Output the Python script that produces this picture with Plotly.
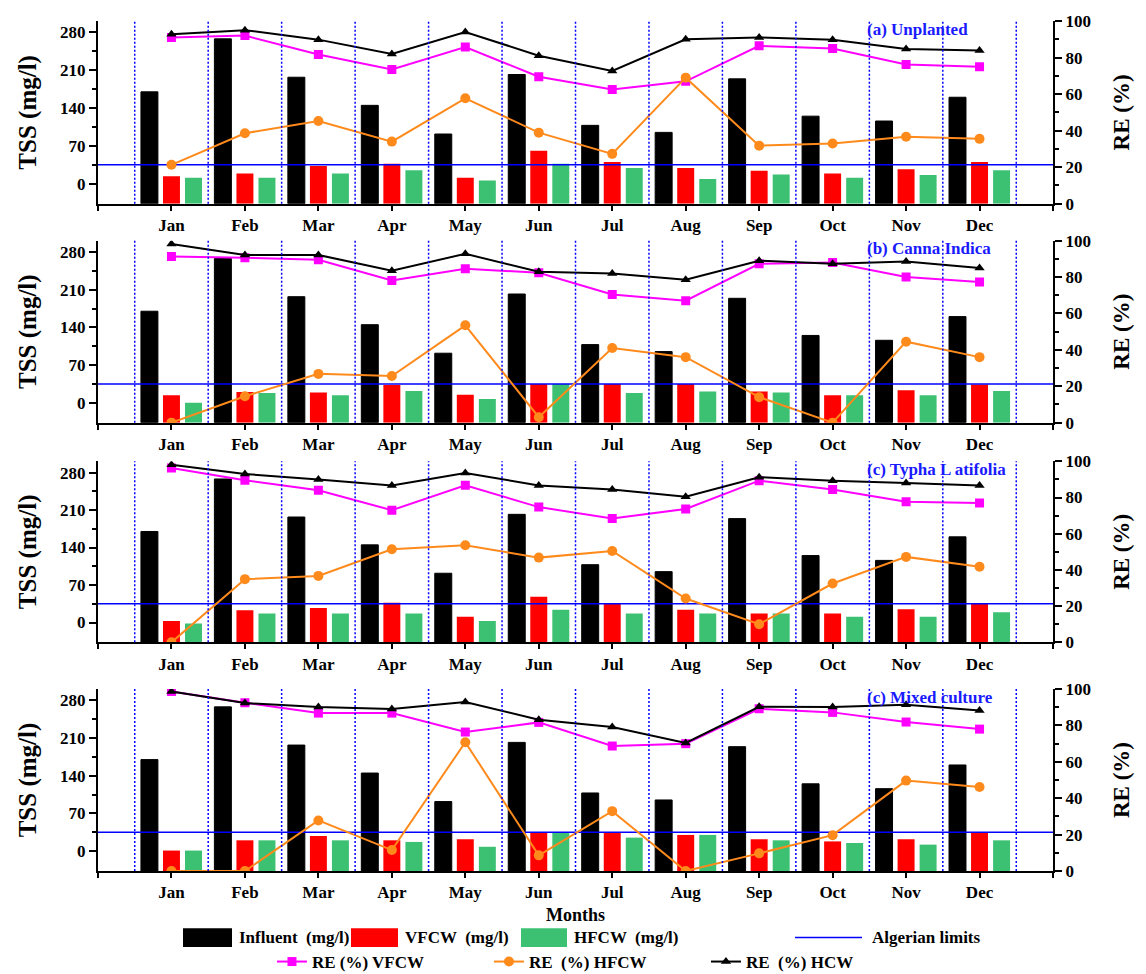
import plotly.graph_objects as go

# ---------------------------------------------------------------- data
MONTHS = ["Jan", "Feb", "Mar", "Apr", "May", "Jun",
          "Jul", "Aug", "Sep", "Oct", "Nov", "Dec"]
MONTH_POS = list(range(1, 13))

ALGERIAN_LIMIT = 35  # mg/l

# influent TSS (mg/l), common to all four systems
INFLUENT = [170, 268, 197, 145, 92, 202, 108, 95, 194, 125, 116, 160]

# (a) Unplanted
VFCW_A = [14, 19, 33, 37, 11, 61, 40, 29, 24, 19, 27, 40]
HFCW_A = [11, 11, 19, 25, 6, 37, 29, 9, 17, 11, 16, 25]
RE_VFCW_A = [91.0, 92.0, 81.7, 73.5, 85.8, 69.5, 62.5, 67.0, 86.4, 85.0, 76.2, 75.0]
RE_HFCW_A = [21.3, 38.6, 45.3, 34.0, 57.7, 38.9, 27.3, 69.0, 31.8, 33.0, 36.7, 35.5]
RE_HCW_A = [92.7, 95.0, 89.8, 82.0, 94.0, 81.0, 72.7, 90.0, 91.0, 89.8, 84.7, 83.8]

# (b) Canna Indica
VFCW_B = [14, 20, 19, 33, 15, 35, 35, 35, 21, 14, 23, 34]
HFCW_B = [0, 18, 14, 22, 7, 35, 18, 21, 19, 14, 14, 22]
RE_VFCW_B = [91.3, 90.7, 89.5, 78.2, 84.6, 82.4, 70.4, 67.0, 87.3, 88.0, 80.0, 77.3]
RE_HFCW_B = [0.0, 14.5, 26.8, 25.6, 53.5, 3.0, 41.0, 36.0, 14.0, 0.0, 44.5, 36.0]
RE_HCW_B = [98.2, 92.2, 92.2, 83.5, 92.8, 83.0, 82.0, 78.6, 89.0, 87.3, 88.6, 85.0]

# (c) Typha Latifolia
VFCW_C = [3, 23, 27, 37, 11, 48, 35, 24, 17, 17, 25, 35]
HFCW_C = [-2, 17, 17, 17, 3, 24, 17, 17, 17, 11, 11, 19]
RE_VFCW_C = [96.3, 89.5, 84.0, 73.0, 86.8, 74.7, 68.4, 73.7, 89.3, 84.4, 77.6, 77.0]
RE_HFCW_C = [0.0, 34.9, 36.7, 51.4, 53.6, 46.8, 50.5, 24.2, 10.0, 32.5, 47.2, 41.8]
RE_HCW_C = [98.1, 93.0, 89.9, 86.6, 93.6, 86.6, 84.4, 80.4, 91.2, 89.3, 88.0, 86.6]

# (d) Mixed culture
VFCW_D = [1, 20, 28, 20, 22, 35, 35, 30, 22, 18, 22, 35]
HFCW_D = [1, 20, 20, 17, 8, 35, 25, 30, 20, 15, 12, 20]
RE_VFCW_D = [98.7, 92.5, 86.8, 86.8, 76.4, 81.7, 68.7, 70.0, 89.2, 87.2, 81.9, 78.0]
RE_HFCW_D = [0.0, 0.0, 27.8, 11.5, 70.8, 8.6, 32.9, 0.0, 9.7, 19.7, 49.7, 46.2]
RE_HCW_D = [98.7, 92.3, 90.1, 89.0, 92.9, 83.2, 79.2, 70.4, 90.3, 90.1, 91.4, 88.3]

PANEL_TITLES = ["(a) Unplanted", "(b) Canna Indica",
                "(c) Typha L atifolia", "(c) Mixed culture"]

PANELS = [
    (VFCW_A, HFCW_A, RE_VFCW_A, RE_HFCW_A, RE_HCW_A),
    (VFCW_B, HFCW_B, RE_VFCW_B, RE_HFCW_B, RE_HCW_B),
    (VFCW_C, HFCW_C, RE_VFCW_C, RE_HFCW_C, RE_HCW_C),
    (VFCW_D, HFCW_D, RE_VFCW_D, RE_HFCW_D, RE_HCW_D),
]

# ---------------------------------------------------------------- style
FONT = "Liberation Serif"
BLACK = "#000000"
RED = "#ff0000"
GREEN = "#3cc173"
MAGENTA = "#ff00ff"
ORANGE = "#ff8a1c"
BLUE = "#0000ff"
TITLE_BLUE = "#1a1aff"

X_RANGE = [0, 13]
TSS_RANGE = [-37, 301]
RE_RANGE = [0, 100]

W, H = 1146, 974
M_L, M_R, M_T, M_B = 98, 93, 16, 103

# vertical domains of the four stacked panels (top to bottom)
DOMAINS = [[0.785, 1.0], [0.5275, 0.7415], [0.269, 0.482], [0.0, 0.214]]


def paper_x(px):
    return (px - M_L) / (W - M_L - M_R)


def paper_y(py):
    return 1 - (py - M_T) / (H - M_T - M_B)


tick_font = dict(family=FONT, size=17, color=BLACK, weight="bold")
title_font = dict(family=FONT, size=25, color=BLACK, weight="bold")
legend_font = dict(family=FONT, size=17, color=BLACK, weight="bold")

fig = go.Figure()

for i, (vf, hf, re_vf, re_hf, re_h) in enumerate(PANELS):
    xa = "x" if i == 0 else f"x{i + 1}"
    yl = "y" if i == 0 else f"y{2 * i + 1}"
    yr = f"y{2 * i + 2}"
    first = i == 0

    # bars rise from the bottom of the TSS axis
    for vals, color, name, lw in [
        (INFLUENT, BLACK, "Influent  (mg/l)", 1),
        (vf, RED, "VFCW  (mg/l)", 0),
        (hf, GREEN, "HFCW  (mg/l)", 0),
    ]:
        fig.add_trace(go.Bar(
            x=MONTH_POS, y=[v - TSS_RANGE[0] for v in vals], base=TSS_RANGE[0],
            xaxis=xa, yaxis=yl, name=name, showlegend=False,
            marker=dict(color=color, line=dict(color=BLACK, width=lw)),
        ))

    fig.add_trace(go.Scatter(
        x=X_RANGE, y=[ALGERIAN_LIMIT, ALGERIAN_LIMIT], mode="lines",
        xaxis=xa, yaxis=yl, name="Algerian limits", showlegend=False,
        line=dict(color=BLUE, width=1.5),
    ))

    for vals, color, name, sym, size in [
        (re_vf, MAGENTA, "RE (%) VFCW", "square", 9),
        (re_hf, ORANGE, "RE  (%) HFCW", "circle", 10),
        (re_h, BLACK, "RE  (%) HCW", "triangle-up", 9),
    ]:
        fig.add_trace(go.Scatter(
            x=MONTH_POS, y=vals, mode="lines+markers",
            xaxis=xa, yaxis=yr, name=name, legend="legend",
            showlegend=first, legendgroup=name,
            line=dict(color=color, width=2),
            marker=dict(color=color, symbol=sym, size=size),
        ))

    # dotted separators between months
    for k in range(13):
        fig.add_shape(type="line", xref=xa, yref=f"{yl} domain",
                      x0=k + 0.5, x1=k + 0.5, y0=0, y1=1,
                      line=dict(color=BLUE, width=1.5, dash="2px,2px"))

    fig.add_annotation(text=PANEL_TITLES[i], xref=xa, yref=f"{yl} domain",
                       x=10.45, y=0.955, xanchor="left", yanchor="middle",
                       showarrow=False, borderpad=0,
                       font=dict(family=FONT, size=17, color=TITLE_BLUE, weight="bold"))

    xkey = "xaxis" if i == 0 else f"xaxis{i + 1}"
    ylkey = "yaxis" if i == 0 else f"yaxis{2 * i + 1}"
    yrkey = f"yaxis{2 * i + 2}"

    xaxis = dict(
        domain=[0, 1], range=X_RANGE, anchor=yl,
        tickmode="array", tickvals=list(range(14)),
        ticktext=[""] + MONTHS + [""],
        ticks="outside", ticklen=5, tickwidth=2, tickcolor=BLACK,
        showline=True, linewidth=2, linecolor=BLACK,
        showgrid=False, zeroline=False, tickfont=tick_font,
    )
    if i == 3:
        xaxis["title"] = dict(text="Months", font=dict(family=FONT, size=18,
                                                       color=BLACK, weight="bold"),
                              standoff=7)
    fig.layout[xkey] = xaxis

    fig.layout[ylkey] = dict(
        domain=DOMAINS[i], range=TSS_RANGE, anchor=xa,
        tickmode="array", tickvals=[0, 70, 140, 210, 280],
        ticks="outside", ticklen=7, tickwidth=2, tickcolor=BLACK,
        minor=dict(tickmode="array", tickvals=[35, 105, 175, 245],
                   ticks="outside", ticklen=4, tickwidth=1.5, tickcolor=BLACK),
        showline=True, linewidth=2, linecolor=BLACK,
        showgrid=False, zeroline=False, tickfont=tick_font,
        title=dict(text="TSS (mg/l)", font=title_font, standoff=16),
    )
    fig.layout[yrkey] = dict(
        domain=DOMAINS[i], range=RE_RANGE, anchor=xa, overlaying=yl,
        side="right", tickmode="linear", tick0=0, dtick=20,
        ticks="outside", ticklen=7, tickwidth=2, tickcolor=BLACK,
        minor=dict(dtick=10, ticks="outside", ticklen=4, tickwidth=1.5,
                   tickcolor=BLACK),
        showline=True, linewidth=2, linecolor=BLACK,
        showgrid=False, zeroline=False, tickfont=tick_font,
        title=dict(text="RE (%)", font=dict(family=FONT, size=23, color=BLACK,
                                            weight="bold"), standoff=23),
    )

# first legend row: large bar swatches and the limit line
ROW1_Y = 938
for (x0, x1), color, label in [
    ((183, 232), BLACK, "Influent  (mg/l)"),
    ((351, 398), RED, "VFCW  (mg/l)"),
    ((521, 567), GREEN, "HFCW  (mg/l)"),
]:
    fig.add_shape(type="rect", xref="paper", yref="paper",
                  x0=paper_x(x0), x1=paper_x(x1),
                  y0=paper_y(ROW1_Y + 9.5), y1=paper_y(ROW1_Y - 9.5),
                  fillcolor=color, line=dict(width=0))
    fig.add_annotation(text=label, xref="paper", yref="paper",
                       x=paper_x(x1 + 5), y=paper_y(ROW1_Y),
                       xanchor="left", yanchor="middle", showarrow=False,
                       font=legend_font)
fig.add_shape(type="line", xref="paper", yref="paper",
              x0=paper_x(795), x1=paper_x(862),
              y0=paper_y(ROW1_Y), y1=paper_y(ROW1_Y),
              line=dict(color=BLUE, width=1.5))
fig.add_annotation(text="Algerian limits", xref="paper", yref="paper",
                   x=paper_x(870), y=paper_y(ROW1_Y),
                   xanchor="left", yanchor="middle", showarrow=False,
                   font=legend_font)

fig.update_layout(
    width=W, height=H,
    margin=dict(l=M_L, r=M_R, t=M_T, b=M_B),
    paper_bgcolor="white", plot_bgcolor="white",
    barmode="group", bargap=0.1, bargroupgap=0.23,
    font=dict(family=FONT, color=BLACK),
    legend=dict(orientation="h", x=0.523, xanchor="center",
                yref="container", y=1 - 962 / H, yanchor="middle",
                font=legend_font, entrywidth=172,
                bgcolor="rgba(0,0,0,0)", traceorder="normal"),
)

fig.write_html("out.html")
